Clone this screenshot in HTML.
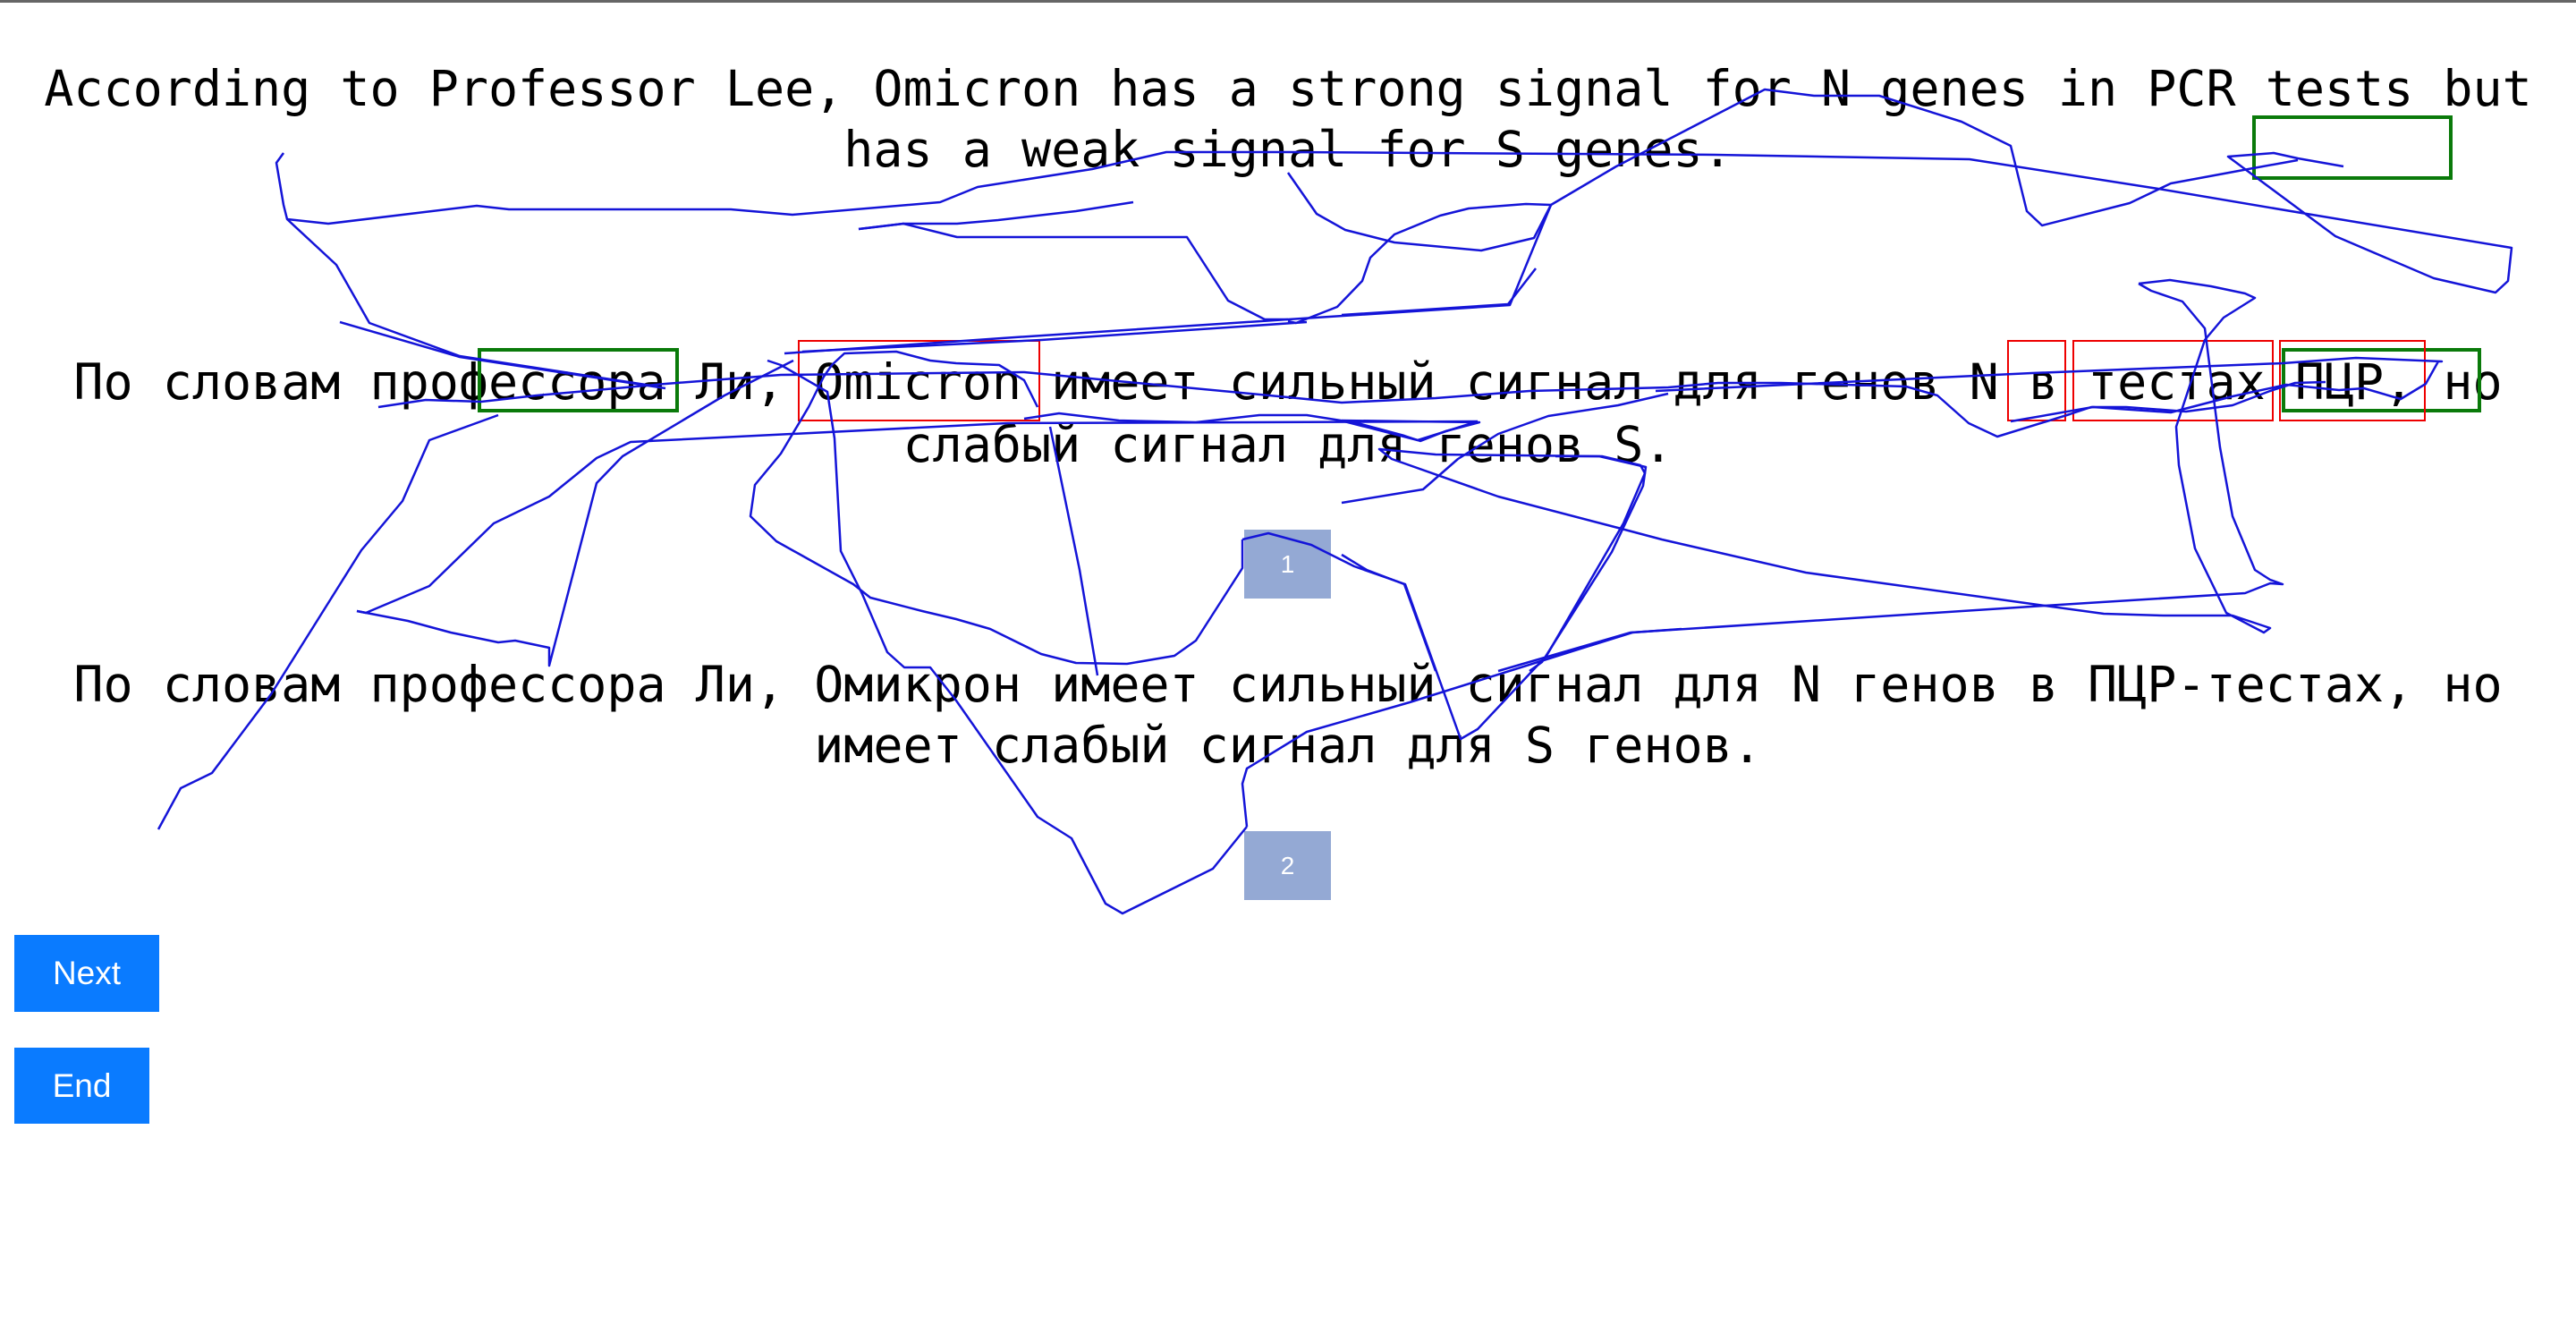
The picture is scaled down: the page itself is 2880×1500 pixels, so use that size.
<!DOCTYPE html>
<html><head><meta charset="utf-8"><style>
html,body{margin:0;padding:0;background:#fff;width:2880px;height:1500px;overflow:hidden;position:relative}
.t{position:absolute;left:0;width:2880px;text-align:center;white-space:pre;font-family:"DejaVu Sans Mono","Liberation Mono",monospace;font-size:55px;line-height:68px;color:#000}
.nb{position:absolute;left:1391px;width:97px;height:77px;background:#94a9d4;color:#fff;font-family:"Liberation Sans",sans-serif;font-size:28px;line-height:77px;text-align:center}
.btn{position:absolute;left:16px;background:#0a7bff;color:#fff;font-family:"Liberation Sans",sans-serif;font-size:37px;text-align:center}
.bx{position:absolute;box-sizing:border-box}
</style></head><body>
<div style="position:absolute;left:0;top:0;width:2880px;height:3px;background:#666"></div>
<div class="t" style="top:65px">According to Professor Lee, Omicron has a strong signal for N genes in PCR tests but</div>
<div class="t" style="top:133px">has a weak signal for S genes.</div>
<div class="t" style="top:393px">По словам профессора Ли, Omicron имеет сильный сигнал для генов N в тестах ПЦР, но</div>
<div class="t" style="top:463px">слабый сигнал для генов S.</div>
<div class="t" style="top:731px">По словам профессора Ли, Омикрон имеет сильный сигнал для N генов в ПЦР-тестах, но</div>
<div class="t" style="top:799px">имеет слабый сигнал для S генов.</div>
<div class="nb" style="top:592px">1</div>
<div class="nb" style="top:929px">2</div>
<div class="btn" style="top:1045px;width:162px;height:86px;line-height:86px">Next</div>
<div class="btn" style="top:1171px;width:151px;height:85px;line-height:85px">End</div>
<div class="bx" style="left:534px;top:389px;width:225px;height:72px;border:4px solid #0a7a0a"></div>
<div class="bx" style="left:2551px;top:389px;width:223px;height:72px;border:4px solid #0a7a0a"></div>
<div class="bx" style="left:2518px;top:129px;width:224px;height:72px;border:4px solid #0a7a0a"></div>
<div class="bx" style="left:892px;top:380px;width:271px;height:91px;border:2px solid #e00"></div>
<div class="bx" style="left:2244px;top:380px;width:66px;height:91px;border:2px solid #e00"></div>
<div class="bx" style="left:2317px;top:380px;width:225px;height:91px;border:2px solid #e00"></div>
<div class="bx" style="left:2548px;top:380px;width:164px;height:91px;border:2px solid #e00"></div>
<svg style="position:absolute;left:0;top:0" width="2880" height="1500" viewBox="0 0 2880 1500" fill="none" stroke="#1414d8" stroke-width="2.5" stroke-linejoin="round">
<polyline points="177,927 202,881 237,864 303,776 404,615 450,560 480,492 557,464"/>
<polyline points="317,171 309,182 317,229 321,245 367,250 533,230 569,234 817,234 886,240 1051,226 1093,209 1221,189 1304,170 1440,170 1917,173 2202,178 2413,211 2579,239 2808,277 2804,314 2790,327 2721,311 2611,264 2491,175 2542,171 2569,177 2620,186"/>
<polyline points="321,245 376,296 413,361 514,398 735,432"/>
<polyline points="380,360 514,399 744,434"/>
<polyline points="960,256 1010,250 1070,265 1327,265 1373,336 1414,357 1440,357 1688,341 1734,229 1807,186 1973,100 2028,107 2101,107 2193,136 2248,163 2266,236 2283,252 2381,227 2427,205 2519,188 2569,179"/>
<polyline points="960,256 1010,250 1070,250 1116,246 1203,236 1267,226"/>
<polyline points="877,395 1120,378 1440,357"/>
<polyline points="897,393 1164,380 1461,360"/>
<polyline points="1440,193 1472,239 1504,257 1559,271 1656,280 1715,266 1734,229 1706,228 1642,233 1610,241 1559,262 1532,288 1523,314 1495,343 1449,361 1440,359"/>
<polyline points="1500,352 1686,340 1717,300"/>
<polyline points="1389,603 1418,596 1466,609 1514,633 1571,653 1633,826 1652,815 1729,733 1815,585 1839,529 1834,520 1791,510 1739,510"/>
<polyline points="1389,603 1389,635 1337,716 1313,733 1260,742 1203,741 1164,731 1107,703 1069,692 1031,683 973,668 954,653 911,629 868,605 839,577 844,542 873,507 904,455 921,421 930,408 944,395 1002,393 1040,403 1069,406 1117,408 1145,425 1160,455"/>
<polyline points="1394,924 1356,971 1255,1021 1236,1010 1198,937 1160,913 1069,783 1040,746 1011,746 992,729 964,664 940,616 933,490 925,438 873,408 858,403"/>
<polyline points="1394,924 1389,876 1394,859 1461,818 1576,785 1729,737 1825,707 1880,703"/>
<polyline points="1227,755 1207,637 1184,525 1174,477"/>
<polyline points="399,683 409,685 480,655 552,585 614,555 667,512 705,494 1126,473 1652,471"/>
<polyline points="399,683 456,694 504,707 557,718 576,716 614,724 614,744 667,540 696,510 810,442 887,403"/>
<polyline points="1145,468 1184,462 1251,470 1337,472 1408,464 1461,464 1499,470 1585,492 1652,471"/>
<polyline points="423,455 476,447 538,449 600,442 744,429 873,419 1145,416 1440,444 1500,450 1605,445 1710,437 1865,433 1921,428 1991,428 2131,432 2166,442 2201,473 2233,488 2314,463 2338,455 2377,455 2444,460 2496,453 2538,437 2566,428 2600,427"/>
<polyline points="1851,437 2272,417 2552,406 2634,400 2730,404 2726,404 2712,429 2684,446 2643,434 2615,436 2556,430 2496,443 2427,461 2340,455 2248,471"/>
<polyline points="1500,470 1654,472 1616,482 1588,493 1570,487 1514,472"/>
<polyline points="1500,562 1591,547 1630,513 1675,485 1731,465 1809,453 1865,440"/>
<polyline points="2391,317 2426,313 2472,320 2510,328 2521,333 2486,355 2465,380 2433,477 2436,520 2454,613 2489,685 2531,707 2538,702 2496,688 2419,688 2352,686 2286,677 2019,640 1858,603 1809,590 1675,555 1556,513 1542,502 1605,508 1788,510 1840,522 1837,543 1802,617 1724,740 1710,750"/>
<polyline points="2391,317 2405,325 2440,337 2465,367 2482,500 2496,577 2521,637 2538,648 2552,653 2538,652 2510,663 2286,677 1823,707 1675,750"/>
<polyline points="1500,620 1528,637 1570,653 1605,750"/>
</svg>
</body></html>
